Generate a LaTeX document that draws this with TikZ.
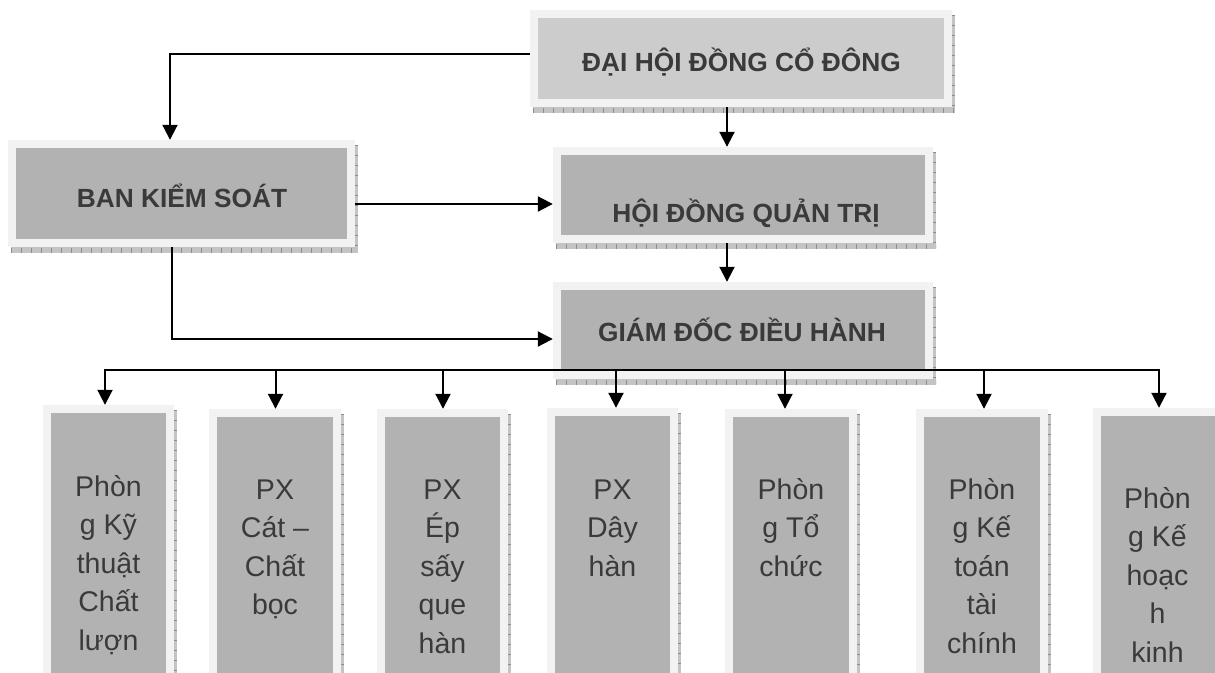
\documentclass[tikz,border=0pt]{standalone}
\usepackage{fontspec}
\setmainfont{Liberation Sans}
\usetikzlibrary{arrows.meta,fit,calc}
\definecolor{framec}{HTML}{F2F2F2}
\definecolor{innerc}{HTML}{B2B2B2}
\definecolor{innerlt}{HTML}{CCCCCC}
\definecolor{shadc}{HTML}{C4C4C4}
\definecolor{tickc}{HTML}{8C8C8C}
\definecolor{txtc}{HTML}{3A3A3A}
\newcommand{\orgbox}[6]{%
  \fill[shadc] (#2+3,#3+5) rectangle (#4+3,#5+6);
  \draw[tickc, line width=5pt, dash pattern=on 0.8pt off 9.2pt] (#2+3,#5+3) -- (#4+3,#5+3);
  \draw[tickc, line width=3pt, dash pattern=on 0.8pt off 9.2pt] (#4+1.5,#3+5) -- (#4+1.5,#5+6);
  \fill[framec] (#2,#3) rectangle (#4,#5);
  \fill[#6] (#2+8,#3+8) rectangle (#4-8,#5-8);
  \node[fit={(#2,#3) (#4,#5)}, inner sep=0pt] (#1) {};
}
\newcommand{\stk}[1]{\vtop{\baselineskip=38.5pt\halign{\hfil##\hfil\cr#1\crcr}}}
\tikzset{
  arr/.style={-{Triangle[length=15pt,width=15pt]}, line width=2pt},
  title/.style={anchor=base, inner sep=0pt, text=txtc, font=\fontsize{26.3pt}{30pt}\selectfont\bfseries},
  dept/.style={anchor=base, inner sep=0pt, text=txtc, font=\fontsize{28.5pt}{38.5pt}\selectfont},
}
\begin{document}
\begin{tikzpicture}[x=1pt,y=-1pt]
\path[use as bounding box] (0,0) rectangle (1215,672);
\clip (0,0) rectangle (1215,672);
\fill[white] (0,0) rectangle (1215,672);
% top boxes
\orgbox{dhd}{530}{10}{952}{107}{innerlt}
\orgbox{bks}{8}{140}{355}{247}{innerc}
\orgbox{hdqt}{553}{147}{933}{243}{innerc}
\orgbox{gd}{553}{282}{933}{379}{innerc}
\node[title] (tdhd) at (741.5,71) {ĐẠI HỘI ĐỒNG CỔ ĐÔNG};
\node[title] (tbks) at (182,207) {BAN KIỂM SOÁT};
\node[title] (thdqt) at (746,222) {HỘI ĐỒNG QUẢN TRỊ};
\node[title] (tgd) at (742,341) {GIÁM ĐỐC ĐIỀU HÀNH};
% bottom boxes
\orgbox{b1}{43}{405}{174}{720}{innerc}
\orgbox{b2}{209}{409}{341}{720}{innerc}
\orgbox{b3}{377}{409}{508}{720}{innerc}
\orgbox{b4}{547}{408}{678}{720}{innerc}
\orgbox{b5}{725}{409}{857}{720}{innerc}
\orgbox{b6}{916}{409}{1048}{720}{innerc}
\orgbox{b7}{1093}{408}{1225}{720}{innerc}
\node[dept] (t1) at (108.5,496) {\stk{Phòn\cr g Kỹ\cr thuật\cr Chất\cr lượn}};
\node[dept] (t2) at (275,499) {\stk{PX\cr Cát –\cr Chất\cr bọc}};
\node[dept] (t3) at (442.5,499) {\stk{PX\cr Ép\cr sấy\cr que\cr hàn}};
\node[dept] (t4) at (612.5,499) {\stk{PX\cr Dây\cr hàn}};
\node[dept] (t5) at (791,499) {\stk{Phòn\cr g Tổ\cr chức}};
\node[dept] (t6) at (982,499) {\stk{Phòn\cr g Kế\cr toán\cr tài\cr chính}};
\node[dept] (t7) at (1157.5,508) {\stk{Phòn\cr g Kế\cr hoạc\cr h\cr kinh}};
% connectors
\draw[arr] ([yshift=4.5pt]dhd.west) -| ([xshift=-11.5pt]bks.north);
\draw[arr] ([xshift=-14pt]dhd.south) -- ([xshift=-14pt]dhd.south |- hdqt.north);
\draw[arr] ([yshift=-10.5pt]bks.east) -- ([yshift=-10.5pt]bks.east -| hdqt.west);
\draw[arr] ([xshift=-16pt]hdqt.south) -- ([xshift=-16pt]hdqt.south |- gd.north);
\draw[arr] ([xshift=-9.5pt]bks.south) |- ([yshift=-8.5pt]gd.west);
\coordinate (bus) at (742,370);
\draw[arr] (bus) -| ([xshift=-3.5pt]b1.north);
\draw[arr] (bus) -| (b7.north);
\draw[arr] ([xshift=0.5pt]bus -| b2.north) -- ([xshift=0.5pt]b2.north);
\draw[arr] ([xshift=0.5pt]bus -| b3.north) -- ([xshift=0.5pt]b3.north);
\draw[arr] ([xshift=3.5pt]bus -| b4.north) -- ([xshift=3.5pt]b4.north);
\draw[arr] ([xshift=-6pt]bus -| b5.north) -- ([xshift=-6pt]b5.north);
\draw[arr] ([xshift=2pt]bus -| b6.north) -- ([xshift=2pt]b6.north);
\end{tikzpicture}
\end{document}
